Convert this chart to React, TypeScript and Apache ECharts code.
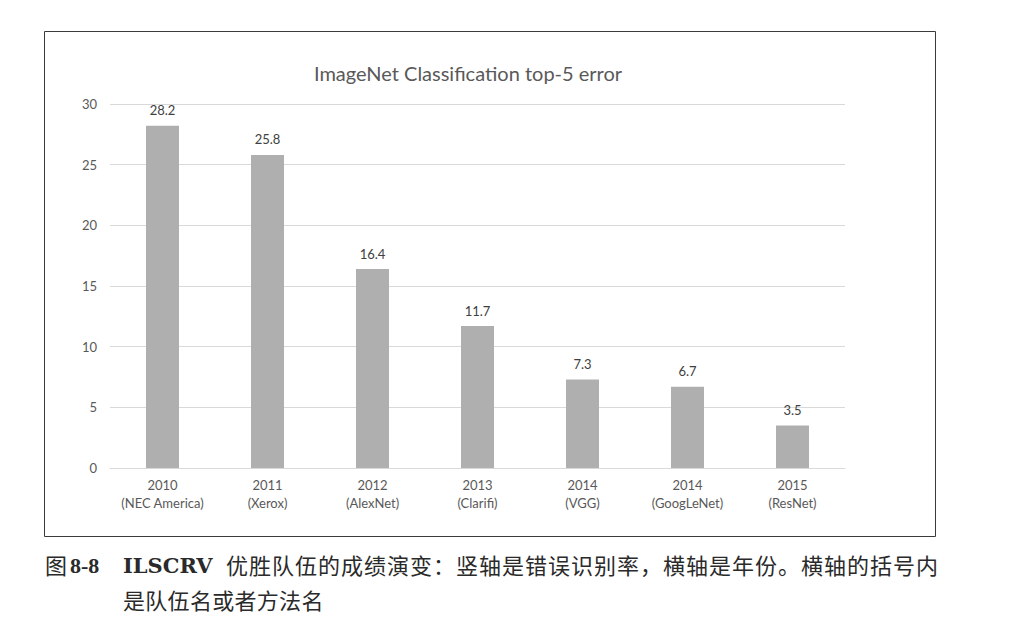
import React, { useEffect, useRef } from "react";
import * as echarts from "echarts";

const years = ["2010", "2011", "2012", "2013", "2014", "2014", "2015"];
const teams = ["NEC America", "Xerox", "AlexNet", "Clarifi", "VGG", "GoogLeNet", "ResNet"];
const errors = [28.2, 25.8, 16.4, 11.7, 7.3, 6.7, 3.5];
const yTicks = { min: 0, max: 30, interval: 5 };
const chartTitle = "ImageNet Classification top-5 error";
const captionFig = "图";
const captionNum = "8-8";
const captionLatin = "ILSCRV";
const captionLine1 = "优胜队伍的成绩演变：竖轴是错误识别率，横轴是年份。横轴的括号内";
const captionLine2 = "是队伍名或者方法名";

function cjkLine(text: string, x0: number, y: number, step: number) {
  return Array.from(text).map((ch, i) => ({
    type: "text",
    x: x0 + i * step,
    y,
    silent: true,
    style: {
      text: ch,
      font: "22px 'Noto Sans CJK SC', sans-serif",
      fill: "#2a2a2a",
      verticalAlign: "middle",
    },
  }));
}

export default function App() {
  const ref = useRef<HTMLDivElement>(null);
  useEffect(() => {
    if (!ref.current) return;
    const chart = echarts.init(ref.current, null, { renderer: "svg" });
    const font = "Lato, 'Open Sans', sans-serif";
    chart.setOption({
      animation: false,
      backgroundColor: "#ffffff",
      title: {
        text: chartTitle,
        left: 463,
        top: 58,
        textAlign: "center",
        textStyle: { color: "#595959", fontSize: 20, fontWeight: "normal", fontFamily: font },
      },
      grid: { left: 110, right: 181, top: 104, bottom: 157, containLabel: false },
      xAxis: {
        type: "category",
        data: years.map((y, i) => y + "\n(" + teams[i] + ")"),
        axisLine: { lineStyle: { color: "#d9d9d9" } },
        axisTick: { show: false },
        axisLabel: {
          interval: 0,
          color: "#595959",
          fontSize: 13,
          fontFamily: font,
          lineHeight: 18,
          margin: 8,
        },
      },
      yAxis: {
        type: "value",
        min: yTicks.min,
        max: yTicks.max,
        interval: yTicks.interval,
        axisLine: { show: false },
        axisTick: { show: false },
        splitLine: { lineStyle: { color: "#d9d9d9" } },
        axisLabel: { color: "#595959", fontSize: 13, fontFamily: font, margin: 13 },
      },
      series: [
        {
          type: "bar",
          data: errors,
          barWidth: 33,
          itemStyle: { color: "#afafaf" },
          label: {
            show: true,
            position: "top",
            distance: 9,
            color: "#404040",
            fontSize: 13,
            fontFamily: font,
          },
        },
      ],
      graphic: [
        {
          type: "rect",
          shape: { x: 44.5, y: 31.5, width: 891, height: 505 },
          style: { fill: "none", stroke: "#3a3a3a", lineWidth: 1 },
          silent: true,
        },
        {
          type: "text",
          x: 45,
          y: 564,
          style: {
            text: captionFig,
            font: "22px 'Noto Sans CJK SC', sans-serif",
            fill: "#2a2a2a",
            verticalAlign: "middle",
          },
        },
        {
          type: "text",
          x: 70,
          y: 565,
          style: {
            text: captionNum,
            font: "bold 22px 'Liberation Serif', serif",
            fill: "#2a2a2a",
            verticalAlign: "middle",
          },
        },
        {
          type: "text",
          x: 123,
          y: 565,
          style: {
            text: captionLatin,
            font: "bold 21px 'DejaVu Serif', serif",
            fill: "#2a2a2a",
            verticalAlign: "middle",
          },
        },
        ...cjkLine(captionLine1, 226, 564, 23.0),
        ...cjkLine(captionLine2, 123, 599, 22.3),
      ],
    });
    return () => chart.dispose();
  }, []);
  return (
    <div
      ref={ref}
      style={{ position: "absolute", left: 0, top: 0, width: 1026, height: 625 }}
    />
  );
}
